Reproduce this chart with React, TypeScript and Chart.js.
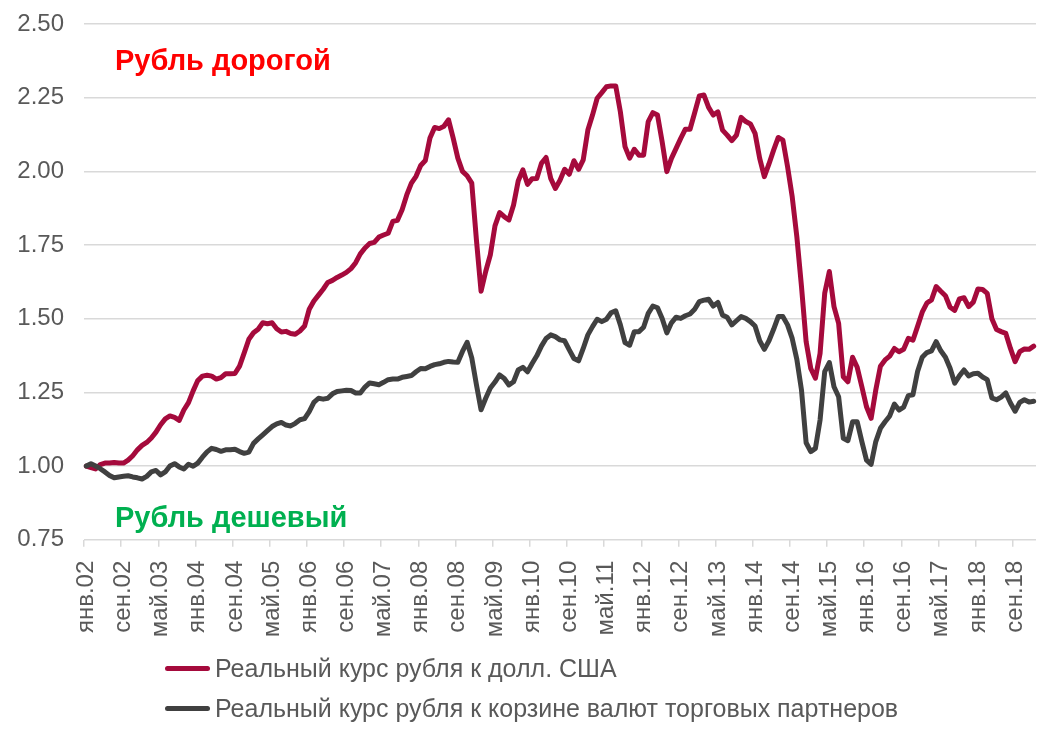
import React, { useEffect, useRef } from 'react';
import { Chart, registerables } from 'chart.js';

Chart.register(...registerables);

const monthNames = ['янв', 'фев', 'мар', 'апр', 'май', 'июн', 'июл', 'авг', 'сен', 'окт', 'ноя', 'дек'];
const startYear = 2002;
const labelEvery = 8;

const usdRate = [
  1.00, 0.995, 0.99, 1.005, 1.01, 1.01, 1.012, 1.01, 1.01, 1.02, 1.035, 1.055,
  1.07, 1.08, 1.095, 1.115, 1.14, 1.16, 1.17, 1.165, 1.155, 1.19, 1.215, 1.255,
  1.29, 1.305, 1.308, 1.305, 1.295, 1.30, 1.313, 1.313, 1.314, 1.339, 1.384, 1.43,
  1.452, 1.464, 1.486, 1.483, 1.486, 1.466, 1.455, 1.457, 1.45, 1.447, 1.458, 1.475,
  1.532, 1.56, 1.58, 1.60, 1.623, 1.63, 1.64, 1.648, 1.657, 1.67, 1.69, 1.72,
  1.74, 1.755, 1.759, 1.777, 1.784, 1.79, 1.83, 1.834, 1.87, 1.92, 1.96, 1.983,
  2.02, 2.037, 2.113, 2.149, 2.145, 2.153, 2.175, 2.113, 2.045, 2.0, 1.985, 1.96,
  1.768, 1.593, 1.66, 1.717, 1.815, 1.86, 1.846, 1.835, 1.886, 1.967, 2.005, 1.956,
  1.975, 1.976, 2.027, 2.047, 1.976, 1.942, 1.97, 2.007, 1.99, 2.036, 2.007, 2.039,
  2.14, 2.191, 2.248, 2.267, 2.287, 2.29, 2.29, 2.202, 2.084, 2.045, 2.075, 2.055,
  2.055, 2.169, 2.199, 2.191, 2.10, 1.999, 2.044, 2.078, 2.112, 2.143, 2.143, 2.199,
  2.256, 2.259, 2.217, 2.191, 2.202, 2.14, 2.123, 2.104, 2.123, 2.183, 2.169, 2.161,
  2.129, 2.044, 1.982, 2.025, 2.072, 2.115, 2.106, 2.016, 1.914, 1.778, 1.609, 1.422,
  1.331, 1.298, 1.382, 1.586, 1.66, 1.541, 1.484, 1.303, 1.286, 1.369, 1.335, 1.269,
  1.201, 1.162, 1.258, 1.339, 1.36, 1.373, 1.399, 1.388, 1.396, 1.433, 1.427, 1.474,
  1.522, 1.553, 1.564, 1.609, 1.593, 1.578, 1.539, 1.528, 1.567, 1.571, 1.541, 1.556,
  1.601, 1.599, 1.586, 1.50, 1.463, 1.456, 1.45, 1.399, 1.354, 1.388, 1.397, 1.396,
  1.407,
];

const basketRate = [
  1.00, 1.008, 1.00, 0.991, 0.98, 0.968, 0.96, 0.963, 0.965, 0.967, 0.963, 0.96,
  0.956, 0.965, 0.98, 0.985, 0.97, 0.98, 1.00, 1.008, 0.997, 0.99, 1.006, 0.999,
  1.01, 1.03, 1.048, 1.06, 1.056, 1.05, 1.055, 1.055, 1.057, 1.049, 1.043, 1.047,
  1.077, 1.092, 1.106, 1.12, 1.134, 1.143, 1.148, 1.139, 1.136, 1.145, 1.157, 1.161,
  1.185, 1.216, 1.23, 1.227, 1.23, 1.245, 1.253, 1.255, 1.257, 1.256, 1.248, 1.248,
  1.268, 1.282, 1.279, 1.276, 1.284, 1.293, 1.295, 1.295, 1.301, 1.304, 1.307, 1.32,
  1.331, 1.33, 1.338, 1.344, 1.347, 1.352, 1.355, 1.353, 1.352, 1.389, 1.42, 1.367,
  1.276, 1.191, 1.23, 1.265, 1.285, 1.309, 1.297, 1.275, 1.286, 1.326, 1.335, 1.32,
  1.348, 1.374, 1.407, 1.433, 1.445, 1.439, 1.428, 1.425, 1.394, 1.365, 1.357, 1.399,
  1.445, 1.473, 1.498, 1.49, 1.498, 1.52, 1.527, 1.479, 1.419, 1.41, 1.456, 1.456,
  1.471, 1.518, 1.543, 1.537, 1.501, 1.452, 1.486, 1.505, 1.501, 1.51, 1.516, 1.532,
  1.558, 1.563, 1.566, 1.543, 1.555, 1.512, 1.505, 1.479, 1.493, 1.507, 1.501, 1.49,
  1.475, 1.425, 1.396, 1.425, 1.464, 1.507, 1.507, 1.479, 1.433, 1.362, 1.258, 1.079,
  1.049, 1.06, 1.156, 1.32, 1.351, 1.269, 1.235, 1.094, 1.086, 1.15, 1.15, 1.083,
  1.02, 1.006, 1.083, 1.128, 1.15, 1.17, 1.21, 1.19, 1.2, 1.239, 1.242, 1.321,
  1.369, 1.385, 1.391, 1.422, 1.391, 1.369, 1.332, 1.281, 1.306, 1.326, 1.306, 1.313,
  1.315, 1.302, 1.293, 1.231, 1.225, 1.234, 1.248, 1.214, 1.186, 1.216, 1.225, 1.217,
  1.22,
];

const seriesNames = [
  'Реальный курс рубля к долл. США',
  'Реальный курс рубля к корзине валют торговых партнеров',
];
const seriesColors = ['#A50A3C', '#404040'];
const noteTexts = ['Рубль дорогой', 'Рубль дешевый'];
const noteColors = ['#FF0000', '#00B050'];

const yMin = 0.75;
const yMax = 2.5;
const yStep = 0.25;

const categories = usdRate.map((_, i) => {
  const yy = (startYear + Math.floor(i / 12)) % 100;
  return `${monthNames[i % 12]}.${String(yy).padStart(2, '0')}`;
});

const FONT = '"Liberation Sans", Arial, sans-serif';

const notesPlugin = {
  id: 'rubleNotes',
  afterDraw(chart: any) {
    const { ctx } = chart;
    ctx.save();
    ctx.font = `bold 29px ${FONT}`;
    ctx.textBaseline = 'alphabetic';
    ctx.textAlign = 'left';
    ctx.fillStyle = noteColors[0];
    ctx.fillText(noteTexts[0], 115, 70);
    ctx.fillStyle = noteColors[1];
    ctx.fillText(noteTexts[1], 115, 527);
    ctx.restore();
  },
};

export default function App() {
  const canvasRef = useRef<HTMLCanvasElement | null>(null);

  useEffect(() => {
    if (!canvasRef.current) return;
    const chart = new Chart(canvasRef.current, {
      type: 'line',
      data: {
        labels: categories,
        datasets: [
          {
            label: seriesNames[0],
            data: usdRate,
            borderColor: seriesColors[0],
            backgroundColor: seriesColors[0],
            borderWidth: 5,
            pointRadius: 0,
            tension: 0,
            borderJoinStyle: 'round',
            borderCapStyle: 'round',
            order: 1,
          },
          {
            label: seriesNames[1],
            data: basketRate,
            borderColor: seriesColors[1],
            backgroundColor: seriesColors[1],
            borderWidth: 5,
            pointRadius: 0,
            tension: 0,
            borderJoinStyle: 'round',
            borderCapStyle: 'round',
            order: 0,
          },
        ],
      },
      options: {
        animation: false,
        responsive: false,
        maintainAspectRatio: false,
        events: [],
        layout: { padding: { top: 24, right: 22, left: 0, bottom: 0 } },
        plugins: {
          legend: { display: false },
          tooltip: { enabled: false },
        },
        scales: {
          x: {
            type: 'category',
            offset: true,
            grid: {
              offset: true,
              drawOnChartArea: false,
              drawTicks: true,
              tickLength: 7,
              lineWidth: 1.5,
              color: (ctx: any) => (ctx.index % labelEvery === 0 ? '#d9d9d9' : 'rgba(0,0,0,0)'),
              tickColor: (ctx: any) => (ctx.index % labelEvery === 0 ? '#d9d9d9' : 'rgba(0,0,0,0)'),
            },
            border: { display: false },
            ticks: {
              autoSkip: false,
              minRotation: 90,
              maxRotation: 90,
              padding: 14,
              color: '#595959',
              font: { family: FONT, size: 24 },
              callback: (_v: any, i: number) => (i % labelEvery === 0 ? categories[i] : ''),
            },
            afterFit: (s: any) => {
              s.height = 198.3;
              s.paddingLeft = 0;
              s.paddingRight = 0;
            },
          },
          y: {
            min: yMin,
            max: yMax,
            grid: { color: '#d9d9d9', lineWidth: 1.5, drawTicks: false },
            border: { display: false },
            ticks: {
              stepSize: yStep,
              padding: 20,
              color: '#595959',
              font: { family: FONT, size: 24 },
              callback: (v: any) => Number(v).toFixed(2),
            },
            afterFit: (s: any) => {
              s.width = 84;
              s.paddingTop = 0;
              s.paddingBottom = 0;
            },
          },
        },
      },
      plugins: [notesPlugin],
    } as any);
    return () => chart.destroy();
  }, []);

  return (
    <div style={{ position: 'fixed', left: 0, top: 0, width: 1058, height: 738, background: '#fff' }}>
      <canvas ref={canvasRef} width={1058} height={738} style={{ display: 'block' }} />
      <div
        style={{
          position: 'absolute',
          left: 165,
          top: 648,
          fontFamily: FONT,
          fontSize: 25,
          color: '#595959',
        }}
      >
        {seriesNames.map((name, i) => (
          <div key={name} style={{ display: 'flex', alignItems: 'center', height: 40, whiteSpace: 'nowrap' }}>
            <span
              style={{
                display: 'inline-block',
                width: 45,
                height: 5,
                borderRadius: 3,
                background: seriesColors[i],
                marginRight: 5,
              }}
            />
            <span>{name}</span>
          </div>
        ))}
      </div>
    </div>
  );
}
